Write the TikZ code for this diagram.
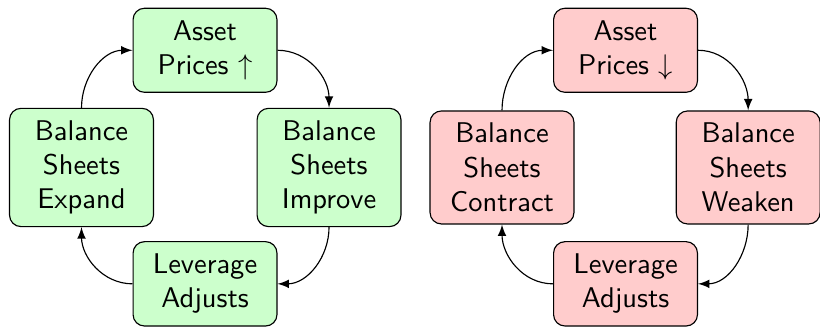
\documentclass[tikz,border=0pt]{standalone}
\usepackage{tikz}

\begin{document}
\begin{tikzpicture}[
    box/.style={draw, rounded corners, font=\sffamily, text width=1.54cm, inner ysep=4.3pt, align=center},
    upbox/.style={box, fill=green!20},
    downbox/.style={box, fill=red!20},
    loop/.style={-latex}
  ]
      \useasboundingbox (0,0) rectangle (10.111,-4.032);
      % boom
      \node [upbox] (price1) at (2.528,-0.620) {Asset\\ Prices $\uparrow$};
      \node [upbox] (improve) at (4.057,-2.065) {Balance\\ Sheets\\ Improve};
      \node [upbox] (adjust1) at (2.528,-3.500) {Leverage\\ Adjusts};
      \node [upbox] (expand) at (1.005,-2.065) {Balance\\ Sheets\\ Expand};
      \draw [loop] (price1.east) to[out=0,in=90] (improve.north);
      \draw [loop] (improve.south) to[out=-90,in=0] (adjust1.east);
      \draw [loop] (adjust1.west) to[out=180,in=-90] (expand.south);
      \draw [loop] (expand.north) to[out=90,in=180] (price1.west);
      % bust
      \node [downbox] (price2) at (7.713,-0.620) {Asset\\ Prices $\downarrow$};
      \node [downbox] (weaken) at (9.225,-2.065) {Balance\\ Sheets\\ Weaken};
      \node [downbox] (adjust2) at (7.713,-3.500) {Leverage\\ Adjusts};
      \node [downbox] (contract) at (6.190,-2.065) {Balance\\ Sheets\\ Contract};
      \draw [loop] (price2.east) to[out=0,in=90] (weaken.north);
      \draw [loop] (weaken.south) to[out=-90,in=0] (adjust2.east);
      \draw [loop] (adjust2.west) to[out=180,in=-90] (contract.south);
      \draw [loop] (contract.north) to[out=90,in=180] (price2.west);
    \end{tikzpicture}
\end{document}
